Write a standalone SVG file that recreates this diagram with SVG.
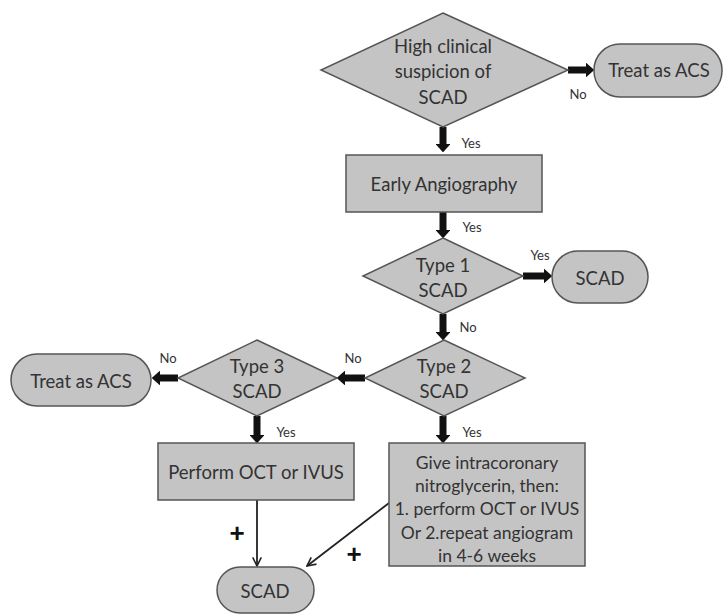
<svg xmlns="http://www.w3.org/2000/svg" width="726" height="616" viewBox="0 0 726 616">
<defs>
<style>
.n{fill:#c4c4c4;stroke:#555;stroke-width:1.5}
.t{font-family:Lato,"Open Sans","Liberation Sans",sans-serif;font-size:18.5px;fill:#333;text-anchor:middle;dominant-baseline:central}
.s{font-size:17.5px}
.l{font-family:Lato,"Open Sans","Liberation Sans",sans-serif;font-size:13px;fill:#333;text-anchor:middle;dominant-baseline:central}
.thick{stroke:#111;stroke-width:7;fill:none}
.thin{stroke:#222;stroke-width:1.8;fill:none}
.plus{font-family:"Liberation Sans",sans-serif;font-weight:bold;font-size:26px;fill:#111;text-anchor:middle;dominant-baseline:central}
</style>
<marker id="bh" viewBox="0 0 10 10" refX="0" refY="5" markerWidth="1.2" markerHeight="2.1" preserveAspectRatio="none" orient="auto" markerUnits="strokeWidth">
<path d="M0,0 L10,5 L0,10 Z" fill="#111"/>
</marker>
<marker id="th" viewBox="0 0 10 10" refX="9" refY="5" markerWidth="6" markerHeight="6" orient="auto" markerUnits="strokeWidth">
<path d="M1,1 L9,5 L1,9" fill="none" stroke="#222" stroke-width="1.5"/>
</marker>
</defs>
<rect width="726" height="616" fill="#fff"/>
<g id="connectors">
<line class="thick" x1="568" y1="70" x2="586" y2="70" marker-end="url(#bh)"/>
<line class="thick" x1="443" y1="127" x2="443" y2="144" marker-end="url(#bh)"/>
<line class="thick" x1="443" y1="212" x2="443" y2="230" marker-end="url(#bh)"/>
<line class="thick" x1="523" y1="276" x2="544" y2="276" marker-end="url(#bh)"/>
<line class="thick" x1="443" y1="314" x2="443" y2="332" marker-end="url(#bh)"/>
<line class="thick" x1="365" y1="378" x2="345" y2="378" marker-end="url(#bh)"/>
<line class="thick" x1="178" y1="378" x2="160" y2="378" marker-end="url(#bh)"/>
<line class="thick" x1="257" y1="416" x2="257" y2="435" marker-end="url(#bh)"/>
<line class="thick" x1="443" y1="416" x2="443" y2="435" marker-end="url(#bh)"/>
<line class="thin" x1="257" y1="500" x2="257" y2="566" marker-end="url(#th)"/>
<line class="thin" x1="389" y1="503" x2="307" y2="566" marker-end="url(#th)"/>
<text class="l" x="578" y="94">No</text>
<text class="l" x="471" y="143">Yes</text>
<text class="l" x="472" y="227">Yes</text>
<text class="l" x="540" y="255">Yes</text>
<text class="l" x="468" y="327">No</text>
<text class="l" x="353" y="358">No</text>
<text class="l" x="168" y="358">No</text>
<text class="l" x="286" y="432">Yes</text>
<text class="l" x="472" y="432">Yes</text>
<text class="plus" x="237" y="533">+</text>
<text class="plus" x="354" y="554">+</text>
</g>
<g id="q-suspicion">
<polygon class="n" points="443,13 568,70 443,127 321,70"/>
<text class="t" x="443" y="46">High clinical</text>
<text class="t" x="443" y="71">suspicion of</text>
<text class="t" x="443" y="97">SCAD</text>
</g>
<g id="acs-top">
<rect class="n" x="594" y="44" width="128" height="53" rx="26"/>
<text class="t" x="659" y="70">Treat as ACS</text>
</g>
<g id="early-angiography">
<rect class="n" x="346" y="155" width="196" height="57"/>
<text class="t" x="444" y="184">Early Angiography</text>
</g>
<g id="q-type1">
<polygon class="n" points="443,238 523,276 443,314 363,276"/>
<text class="t" x="443" y="265">Type 1</text>
<text class="t" x="443" y="290">SCAD</text>
</g>
<g id="scad-right">
<rect class="n" x="552" y="251" width="96" height="52" rx="26"/>
<text class="t" x="600" y="278">SCAD</text>
</g>
<g id="q-type2">
<polygon class="n" points="444,340 525,378 444,416 365,378"/>
<text class="t" x="444" y="366">Type 2</text>
<text class="t" x="444" y="391">SCAD</text>
</g>
<g id="q-type3">
<polygon class="n" points="257,340 337,378 257,416 178,378"/>
<text class="t" x="257" y="366">Type 3</text>
<text class="t" x="257" y="391">SCAD</text>
</g>
<g id="acs-left">
<rect class="n" x="11" y="354" width="140" height="52" rx="26"/>
<text class="t" x="81" y="381">Treat as ACS</text>
</g>
<g id="perform-oct">
<rect class="n" x="158" y="443" width="196" height="57"/>
<text class="t" x="256" y="472">Perform OCT or IVUS</text>
</g>
<g id="nitroglycerin">
<rect class="n" x="389" y="443" width="196" height="123"/>
<text class="t s" x="487" y="462">Give intracoronary</text>
<text class="t s" x="487" y="485">nitroglycerin, then:</text>
<text class="t s" x="487" y="508">1. perform OCT or IVUS</text>
<text class="t s" x="487" y="532">Or 2.repeat angiogram</text>
<text class="t s" x="487" y="555">in 4-6 weeks</text>
</g>
<g id="scad-bottom">
<rect class="n" x="217" y="567" width="97" height="46" rx="23"/>
<text class="t" x="265" y="591">SCAD</text>
</g>
</svg>
